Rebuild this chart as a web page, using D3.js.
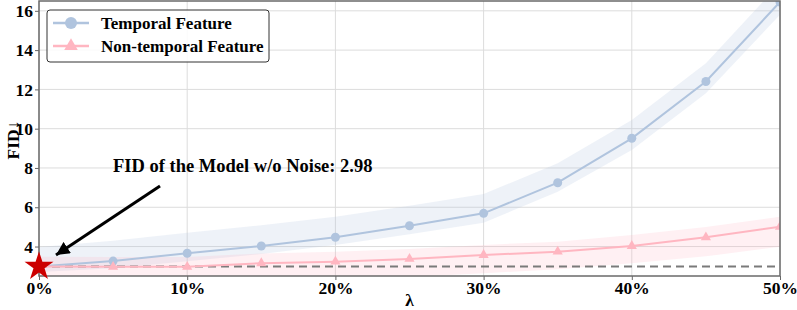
<!DOCTYPE html>
<html>
<head>
<meta charset="utf-8">
<script src="https://cdn.jsdelivr.net/npm/d3@7"></script>
<style>
  body { margin: 0; background: #fff; }
  svg text { font-family: "Liberation Serif", "Times New Roman", serif; font-weight: bold; }
</style>
</head>
<body>
<script>
// data
var lambdas = [0, 5, 10, 15, 20, 25, 30, 35, 40, 45, 50];
var temporal = [2.98, 3.26, 3.66, 4.03, 4.47, 5.06, 5.69, 7.25, 9.51, 12.4, 16.45];
var temporalHi = [3.98, 4.3, 4.7, 5.08, 5.52, 6.08, 6.67, 8.24, 10.44, 13.33, 17.4];
var temporalLo = [2.7, 2.9, 3.25, 3.62, 4.08, 4.62, 5.21, 6.79, 8.92, 11.8, 15.8];
var nonTemporal = [2.98, 2.97, 2.97, 3.15, 3.23, 3.37, 3.57, 3.74, 4.03, 4.47, 5.01];
var nonTemporalHi = [3.48, 3.47, 3.47, 3.65, 3.74, 3.88, 4.08, 4.25, 4.59, 5.0, 5.52];
var nonTemporalLo = [2.0, 2.0, 2.0, 2.2, 2.3, 2.45, 2.64, 2.85, 3.15, 3.5, 3.99];
var baseline = 2.98;
var yTicks = [4, 6, 8, 10, 12, 14, 16];
var xTicks = [0, 10, 20, 30, 40, 50];
var seriesNames = ["Temporal Feature", "Non-temporal Feature"];

var width = 797,
    height = 310;
var margin = {top: 1, right: 17, bottom: 34, left: 39};

var blue = "#b0c4de",
    pink = "#ffb6c1";

var svg = d3.select("body").append("svg")
    .attr("width", width)
    .attr("height", height);

var x = d3.scaleLinear()
    .domain([0, 50])
    .range([margin.left, width - margin.right]);

var y = d3.scaleLinear()
    .domain([2.5, 16.5])
    .range([height - margin.bottom, margin.top]);

svg.append("clipPath").attr("id", "plot")
  .append("rect")
    .attr("x", margin.left).attr("y", margin.top)
    .attr("width", x(50) - x(0)).attr("height", y(2.5) - y(16.5));

//grid
var grid = svg.append("g").attr("stroke", "#dcdcdc").attr("stroke-width", 1);
grid.selectAll(".gy").data(yTicks).enter().append("line")
    .attr("x1", x(0)).attr("x2", x(50))
    .attr("y1", d => y(d)).attr("y2", d => y(d));
grid.selectAll(".gx").data(xTicks).enter().append("line")
    .attr("x1", d => x(d)).attr("x2", d => x(d))
    .attr("y1", y(2.5)).attr("y2", y(16.5));

var plot = svg.append("g").attr("clip-path", "url(#plot)");

function band(hi, lo) {
  return d3.area()
    .x((d, i) => x(lambdas[i]))
    .y0((d, i) => y(lo[i]))
    .y1((d, i) => y(hi[i]))(lambdas);
}
function line(vals) {
  return d3.line()
    .x((d, i) => x(lambdas[i]))
    .y(d => y(d))(vals);
}

plot.append("path").attr("d", band(temporalHi, temporalLo))
    .attr("fill", blue).attr("fill-opacity", 0.22);
plot.append("path").attr("d", band(nonTemporalHi, nonTemporalLo))
    .attr("fill", pink).attr("fill-opacity", 0.2);

//baseline without noise
plot.append("line")
    .attr("x1", x(0)).attr("x2", x(50))
    .attr("y1", y(baseline)).attr("y2", y(baseline))
    .attr("stroke", "#7a7a7a").attr("stroke-width", 2)
    .attr("stroke-dasharray", "8,5");

plot.append("path").attr("d", line(temporal))
    .attr("fill", "none").attr("stroke", blue).attr("stroke-width", 2);
plot.append("path").attr("d", line(nonTemporal))
    .attr("fill", "none").attr("stroke", pink).attr("stroke-width", 2);

plot.selectAll(".pt").data(temporal.slice(1)).enter().append("circle")
    .attr("cx", (d, i) => x(lambdas[i + 1])).attr("cy", d => y(d))
    .attr("r", 4.5).attr("fill", blue);
plot.selectAll(".tri").data(nonTemporal.slice(1)).enter().append("path")
    .attr("d", d3.symbol(d3.symbolTriangle, 45))
    .attr("transform", (d, i) => "translate(" + x(lambdas[i + 1]) + "," + y(d) + ")")
    .attr("fill", pink);

//axes
var xAxis = svg.append("g")
    .attr("transform", "translate(0," + (height - margin.bottom) + ")")
    .call(d3.axisBottom(x).tickValues(xTicks).tickFormat(d => d + "%").tickSize(4).tickPadding(2));
var yAxis = svg.append("g")
    .attr("transform", "translate(" + margin.left + ",0)")
    .call(d3.axisLeft(y).tickValues(yTicks).tickSize(4).tickPadding(2));
[xAxis, yAxis].forEach(function(a) {
  a.select(".domain").remove();
  a.selectAll("text").attr("font-size", 17.5).attr("fill", "#000");
  a.selectAll(".tick line").attr("stroke", "#666");
});

//frame
svg.append("rect")
    .attr("x", x(0)).attr("y", y(16.5))
    .attr("width", x(50) - x(0)).attr("height", y(2.5) - y(16.5))
    .attr("fill", "none").attr("stroke", "#6a6a6a").attr("stroke-width", 1.5);

//star
svg.append("path")
    .attr("d", d3.symbol(d3.symbolStar, 260))
    .attr("transform", "translate(" + x(0) + "," + y(baseline) + ")")
    .attr("fill", "#cc0000");

//annotation
svg.append("defs").append("marker")
    .attr("id", "head").attr("viewBox", "0 0 10 10")
    .attr("refX", 10).attr("refY", 5)
    .attr("markerWidth", 4.5).attr("markerHeight", 4.5)
    .attr("markerUnits", "strokeWidth")
    .attr("orient", "auto")
  .append("path").attr("d", "M0,0L10,5L0,10z").attr("fill", "#000");

svg.append("line")
    .attr("x1", 160).attr("y1", 186)
    .attr("x2", 56).attr("y2", 255)
    .attr("stroke", "#000").attr("stroke-width", 3)
    .attr("marker-end", "url(#head)");

svg.append("text")
    .attr("x", 113).attr("y", 172)
    .attr("font-size", 18.5)
    .text("FID of the Model w/o Noise: " + baseline.toFixed(2));

//axis labels
svg.append("text")
    .attr("x", (x(0) + x(50)) / 2).attr("y", 306)
    .attr("text-anchor", "middle").attr("font-size", 17.5)
    .text("λ");
svg.append("text")
    .attr("transform", "translate(19," + 140 + ") rotate(-90)")
    .attr("text-anchor", "middle").attr("font-size", 17.5)
    .text("FID↓");

//legend
var legend = svg.append("g").attr("transform", "translate(47,10)");
legend.append("rect")
    .attr("width", 222).attr("height", 52).attr("rx", 3)
    .attr("fill", "#fff").attr("fill-opacity", 0.85)
    .attr("stroke", "#333").attr("stroke-width", 1);
seriesNames.forEach(function(name, i) {
  var row = legend.append("g").attr("transform", "translate(0," + (13 + i * 23) + ")");
  var c = i === 0 ? blue : pink;
  row.append("line").attr("x1", 6).attr("x2", 42)
      .attr("stroke", c).attr("stroke-width", 2.5);
  if (i === 0) {
    row.append("circle").attr("cx", 24).attr("r", 6).attr("fill", c);
  } else {
    row.append("path").attr("d", d3.symbol(d3.symbolTriangle, 80))
        .attr("transform", "translate(24,0)").attr("fill", c);
  }
  row.append("text").attr("x", 54).attr("y", 6)
      .attr("font-size", 17).text(name);
});
</script>
</body>
</html>
